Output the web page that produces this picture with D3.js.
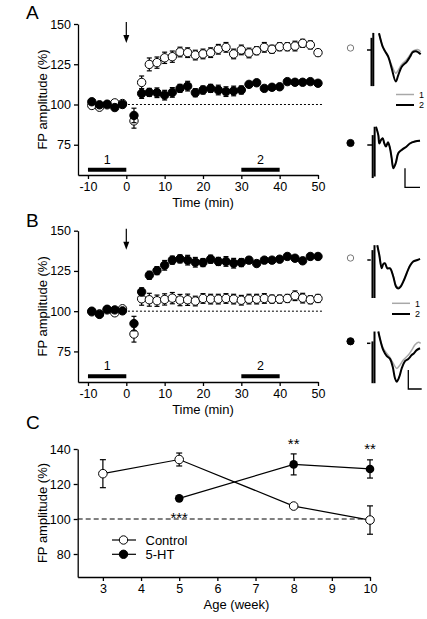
<!DOCTYPE html>
<html><head><meta charset="utf-8">
<script src="https://cdn.jsdelivr.net/npm/d3@7"></script>
<style>
body{margin:0;background:#fff}
svg{display:block;font-family:"Liberation Sans",Arial,Helvetica,sans-serif}
text{fill:#000}
</style>
</head><body>
<svg id="c" width="427" height="619"></svg>
<script>
// ---------- DATA ----------
const times = [-9,-7,-5,-3,-1,2,4,6,8,10,12,14,16,18,20,22,24,26,28,30,32,34,36,38,40,42,44,46,48,50];
const timeTicks = [-10,0,10,20,30,40,50];
const ampTicks = [75,100,125,150];

const aControl = [99.4,98.3,99.8,101,100.6,89.8,113.7,124.9,126,129,129.7,132.6,132.2,130.7,131.4,132.2,134.3,135.5,131.4,133.9,132,133.4,135.5,134.3,135.9,135.9,136.3,138,137,132.2];
const aControlErr = [1.2,1.2,1,1.2,1.2,4.5,4,4,3.5,3.5,3.5,3,3,3,3,3,3,3,3,3,3,2.5,3,2.5,2.5,2.5,3,2.5,2.5,2];
const a5HT = [101.7,99.8,100.2,98.1,100,93.2,106.8,107.5,107.3,105.8,107.5,110,111.4,107.3,109,110,109,108,108.4,109,112.5,113.5,110,110.7,111,114.2,113.8,113.8,114.2,113.2];
const a5HTErr = [1,1,1,1,1,4.5,3,2.5,3,3,3,2.5,3,2.5,2.5,2.5,3,3,3,2.5,1.5,1.5,1.5,1.5,1.5,1.5,1.5,1,1,1];

const bControl = [99.6,98.3,100.8,99,101.5,85.8,107.7,107.1,106.5,107.3,108.1,106.9,107.1,106.3,107.9,107.5,107.5,107.9,107.5,106.8,107.5,107.5,107.9,107.5,107.5,107.9,109.6,108.1,107.1,107.9];
const bControlErr = [1,1,1,1.5,1,5,4,4,3.5,3.5,3.5,3.5,3.5,3,3,3,3,3,3,3,3,3,3,2.5,2.5,2.5,3,3,2.5,2.5];
const b5HT = [100,98,101.2,100.8,100.2,92.3,112,122.3,125.2,128.5,131.7,132.5,131.7,130.4,130.2,132.3,130.9,130.9,129.8,130.2,131.7,129.6,131.7,131.7,132.3,134,132.9,131.3,134,134];
const b5HTErr = [1,1,1,1,1,4.5,2.5,2.5,2.5,3,2.5,2.5,3,3,2.5,2.5,2.5,3,3,2.5,2,1.5,1.5,1.5,1.5,1.5,1.5,1.5,1.5,1.5];

const periods = [{label:"1", from:-10, to:0},{label:"2", from:30, to:40}];

const ages = [3,5,8,10];
const ageTicks = [3,4,5,6,7,8,9,10];
const cTicks = [80,100,120,140];
const cControl = [125.9,134,107.4,99.4];
const cControlErr = [8,3.7,0,8.1];
const c5HTAges = [5,8,10];
const c5HT = [111.8,131.2,128.6];
const c5HTErr = [0,6,5.2];
const sigAges = [5,8,10];
const sigLabels = ["***","**","**"];
const sigLevels = [97.8,140,137.2];

// traces: [ms, mV]
const trABase = [[0,0],[0.6,0]];
const trAArt = [[0.6,0.32,-0.95],[0.84,0.45,-0.95]];
const trA1 = [[1.6,0.44],[1.83,0.26],[2.09,0.09],[2.4,-0.03],[2.84,-0.18],[3.29,-0.4],[3.83,-0.61],[4.17,-0.53],[4.63,-0.38],[5.29,-0.25],[5.73,-0.13],[6.09,-0.03],[6.53,0.01],[6.84,0.01],[7.16,-0.05]];
const trA2 = [[1.6,0.44],[1.83,0.26],[2.09,0.09],[2.4,-0.03],[2.84,-0.18],[3.29,-0.48],[3.83,-0.83],[4.17,-0.66],[4.63,-0.44],[5.29,-0.31],[5.73,-0.18],[6.09,-0.06],[6.53,-0.03],[6.84,-0.06],[7.16,-0.11]];
const trA5Base = [[0.04,0],[0.7,0]];
const trA5Art = [[0.76,0.26,-0.87],[1.02,0.48,-0.83]];
const trA51 = [[1.2,0.48],[1.51,0.26],[1.64,0.05],[1.87,0.14],[2.09,0.18],[2.31,0.05],[2.53,-0.03],[2.8,0.07],[3.07,-0.08],[3.29,-0.33],[3.51,-0.57],[3.83,-0.46],[4.17,-0.21],[4.63,-0.12],[5.29,-0.03],[5.73,0.05],[6.4,0.1],[7.07,0.12]];
const trA52 = [[1.2,0.48],[1.51,0.26],[1.64,0.04],[1.87,0.13],[2.09,0.18],[2.31,0.04],[2.53,-0.04],[2.8,0.07],[3.07,-0.09],[3.29,-0.35],[3.51,-0.61],[3.83,-0.48],[4.17,-0.22],[4.63,-0.13],[5.29,-0.04],[5.73,0.04],[6.4,0.09],[7.07,0.11]];

const trBBase = [[0.04,0],[0.5,0]];
const trBArt = [[0.73,0.26,-1.0],[1.0,0.39,-1.0]];
const trB1 = [[1.37,0.39],[1.64,0.13],[1.96,-0.2],[2.17,-0.1],[2.4,-0.08],[2.71,-0.2],[3.07,-0.21],[3.51,-0.42],[3.87,-0.67],[4.17,-0.72],[4.49,-0.68],[4.84,-0.55],[5.29,-0.34],[5.73,-0.14],[6.17,-0.03],[6.71,0.01],[7.07,0.03]];
const trB2 = [[1.37,0.39],[1.64,0.13],[1.96,-0.22],[2.17,-0.11],[2.4,-0.09],[2.71,-0.22],[3.07,-0.22],[3.51,-0.44],[3.87,-0.7],[4.17,-0.75],[4.49,-0.7],[4.84,-0.57],[5.29,-0.35],[5.73,-0.15],[6.17,-0.04],[6.71,0],[7.07,0.03]];
const trB5Base = [[0,0],[0.45,0]];
const trB5Art = [[0.73,0.05,-1.05],[1.0,0.31,-1.05]];
const trB51 = [[1.51,0.31],[1.83,0.05],[2.17,-0.13],[2.62,-0.26],[3.07,-0.38],[3.51,-0.53],[3.96,-0.66],[4.4,-0.57],[4.84,-0.44],[5.51,-0.31],[5.96,-0.18],[6.4,-0.04],[6.84,0.03],[7.16,0]];
const trB52 = [[1.51,0.31],[1.83,0.04],[2.17,-0.18],[2.62,-0.33],[3.07,-0.41],[3.43,-0.62],[3.73,-0.92],[3.96,-1.01],[4.31,-0.88],[4.63,-0.66],[5.07,-0.47],[5.51,-0.41],[5.96,-0.31],[6.27,-0.26],[6.62,-0.18],[7.07,-0.13]];

// ---------- DRAW ----------
const svg = d3.select("#c");
svg.append("rect").attr("width",427).attr("height",619).attr("fill","#fff");
const FS = 12.5;

function styleAxis(g){
  g.selectAll("path.domain").attr("stroke","#000").attr("stroke-width",1.3);
  g.selectAll(".tick line").attr("stroke","#000").attr("stroke-width",1.3);
  g.selectAll(".tick text").attr("font-size",FS).attr("fill","#000").attr("font-family","Liberation Sans, Arial, sans-serif");
}

function timePanel(cfg){
  const x = d3.scaleLinear().domain([-12.6,50]).range([78,318]);
  const y = d3.scaleLinear().domain(cfg.yDom).range([cfg.bottom,cfg.top]);
  const g = svg.append("g");
  const ya = g.append("g").attr("transform","translate(78,0)")
    .call(d3.axisLeft(y).tickValues(ampTicks).tickSize(4).tickSizeOuter(0).tickPadding(3));
  styleAxis(ya);
  const xa = g.append("g").attr("transform",`translate(0,${cfg.bottom})`)
    .call(d3.axisBottom(x).tickValues(timeTicks).tickSize(4).tickSizeOuter(0).tickPadding(3).tickFormat(d=>d));
  styleAxis(xa);
  xa.selectAll(".tick text").text(d=>d<0?"-"+Math.abs(d):d);
  g.append("text").attr("x",x(20)).attr("y",cfg.bottom+32).attr("text-anchor","middle")
    .attr("font-size",13).text("Time (min)");
  g.append("text").attr("transform",`translate(47,${(cfg.top+cfg.bottom)/2}) rotate(-90)`)
    .attr("text-anchor","middle").attr("font-size",13).text("FP amplitude (%)");
  g.append("text").attr("x",26).attr("y",cfg.letterY).attr("font-size",19).text(cfg.letter);
  g.append("line").attr("x1",x(-10)).attr("x2",x(51.5)).attr("y1",y(100)).attr("y2",y(100))
    .attr("stroke","#000").attr("stroke-width",1).attr("stroke-dasharray","2,2");
  g.append("line").attr("x1",x(0)).attr("x2",x(0)).attr("y1",cfg.top-2).attr("y2",cfg.top+12)
    .attr("stroke","#000").attr("stroke-width",1.2);
  g.append("path").attr("d",`M${x(0)-3},${cfg.top+11}L${x(0)+3},${cfg.top+11}L${x(0)},${cfg.top+19}Z`).attr("fill","#000");
  periods.forEach(p=>{
    g.append("line").attr("x1",x(p.from)).attr("x2",x(p.to)).attr("y1",y(cfg.barLevel)).attr("y2",y(cfg.barLevel))
      .attr("stroke","#000").attr("stroke-width",4);
    g.append("text").attr("x",x((p.from+p.to)/2)).attr("y",y(cfg.barLevel)-6).attr("text-anchor","middle")
      .attr("font-size",FS).text(p.label);
  });
  function series(vals,errs,filled){
    const sg = g.append("g");
    vals.forEach((v,i)=>{
      const cx = x(times[i]), e = errs[i];
      if(e>0){
        sg.append("line").attr("x1",cx).attr("x2",cx).attr("y1",y(v-e)).attr("y2",y(v+e)).attr("stroke","#000").attr("stroke-width",1.2);
        [v-e,v+e].forEach(w=>sg.append("line").attr("x1",cx-2.5).attr("x2",cx+2.5).attr("y1",y(w)).attr("y2",y(w)).attr("stroke","#000").attr("stroke-width",1.2));
      }
    });
    sg.selectAll("circle").data(vals).join("circle")
      .attr("cx",(d,i)=>x(times[i])).attr("cy",d=>y(d)).attr("r",4.2)
      .attr("fill",filled?"#000":"#fff").attr("stroke","#000").attr("stroke-width",1);
  }
  series(cfg.open,cfg.openErr,false); series(cfg.fill,cfg.fillErr,true);
}

timePanel({top:24,bottom:175,yDom:[56.2,150],letter:"A",letterY:18.5,barLevel:59.5,
  open:aControl,openErr:aControlErr,fill:a5HT,fillErr:a5HTErr});
timePanel({top:230.7,bottom:382,yDom:[56,150],letter:"B",letterY:226.5,barLevel:59.5,
  open:bControl,openErr:bControlErr,fill:b5HT,fillErr:b5HTErr});

// ---------- Panel C ----------
(function(){
  const x = d3.scaleLinear().domain([2.34,10]).range([77.7,370]);
  const y = d3.scaleLinear().domain([66.86,140]).range([577,449]);
  const g = svg.append("g");
  const ya = g.append("g").attr("transform","translate(77.7,0)")
    .call(d3.axisLeft(y).tickValues(cTicks).tickSize(4).tickSizeOuter(0).tickPadding(3));
  styleAxis(ya);
  const xa = g.append("g").attr("transform","translate(0,577)")
    .call(d3.axisBottom(x).tickValues(ageTicks).tickSize(4).tickSizeOuter(0).tickPadding(3));
  styleAxis(xa);
  g.append("text").attr("x",x(6.5)).attr("y",609).attr("text-anchor","middle").attr("font-size",13).text("Age (week)");
  g.append("text").attr("transform",`translate(47,${(449+577)/2}) rotate(-90)`).attr("text-anchor","middle").attr("font-size",13).text("FP amplitude (%)");
  g.append("text").attr("x",26).attr("y",429).attr("font-size",19).text("C");
  g.append("line").attr("x1",x(2.34)).attr("x2",x(10)).attr("y1",y(100)).attr("y2",y(100))
    .attr("stroke","#000").attr("stroke-width",1).attr("stroke-dasharray","5,3");
  const line = d3.line().x(d=>x(d[0])).y(d=>y(d[1]));
  const ctl = ages.map((a,i)=>[a,cControl[i]]);
  const ht = c5HTAges.map((a,i)=>[a,c5HT[i]]);
  g.append("path").attr("d",line(ctl)).attr("fill","none").attr("stroke","#000").attr("stroke-width",1.2);
  g.append("path").attr("d",line(ht)).attr("fill","none").attr("stroke","#000").attr("stroke-width",1.2);
  function eb(xs,vals,errs){
    vals.forEach((v,i)=>{ const e=errs[i]; if(e<=0) return; const cx=x(xs[i]);
      g.append("line").attr("x1",cx).attr("x2",cx).attr("y1",y(v-e)).attr("y2",y(v+e)).attr("stroke","#000").attr("stroke-width",1.2);
      [v-e,v+e].forEach(w=>g.append("line").attr("x1",cx-3).attr("x2",cx+3).attr("y1",y(w)).attr("y2",y(w)).attr("stroke","#000").attr("stroke-width",1.2));
    });
  }
  eb(ages,cControl,cControlErr); eb(c5HTAges,c5HT,c5HTErr);
  g.selectAll("circle.o").data(ctl).join("circle").attr("cx",d=>x(d[0])).attr("cy",d=>y(d[1])).attr("r",4.3).attr("fill","#fff").attr("stroke","#000").attr("stroke-width",1);
  g.selectAll("circle.f").data(ht).join("circle").attr("cx",d=>x(d[0])).attr("cy",d=>y(d[1])).attr("r",4.3).attr("fill","#000");
  sigAges.forEach((a,i)=>g.append("text").attr("x",x(a)).attr("y",y(sigLevels[i])).attr("text-anchor","middle").attr("font-size",15).attr("fill","#000").text(sigLabels[i]));
  [["Control",false],["5-HT",true]].forEach((d,i)=>{
    const ly = 540+i*14.3;
    g.append("line").attr("x1",112).attr("x2",136).attr("y1",ly).attr("y2",ly).attr("stroke","#000").attr("stroke-width",1.2);
    g.append("circle").attr("cx",123.5).attr("cy",ly).attr("r",4.2).attr("fill",d[1]?"#000":"#fff").attr("stroke","#000");
    g.append("text").attr("x",145.5).attr("y",ly+4.8).attr("font-size",13).text(d[0]);
  });
})();

// ---------- Traces ----------
const tx = d3.scaleLinear().domain([0,1]).range([0,7.5]);
const ty = d3.scaleLinear().domain([0,1]).range([0,-38]);
const tline = d3.line().x(d=>tx(d[0])).y(d=>ty(d[1])).curve(d3.curveCatmullRom.alpha(0.5));
function trace(ox,oy,base,art,t1,t2,filled){
  const g = svg.append("g").attr("transform",`translate(${ox},${oy})`);
  g.append("path").attr("d",d3.line().x(d=>tx(d[0])).y(d=>ty(d[1]))(base)).attr("stroke","#000").attr("stroke-width",1.5).attr("fill","none");
  art.forEach(a=>g.append("line").attr("x1",tx(a[0])).attr("x2",tx(a[0])).attr("y1",ty(a[1])).attr("y2",ty(a[2])).attr("stroke","#000").attr("stroke-width",2));
  g.append("path").attr("d",tline(t1)).attr("stroke","#a8a8a8").attr("stroke-width",1.5).attr("fill","none");
  g.append("path").attr("d",tline(t2)).attr("stroke","#000").attr("stroke-width",2).attr("fill","none");
  svg.append("circle").attr("cx",350.5).attr("cy",oy-2).attr("r",filled?3.6:3.2).attr("fill",filled?"#000":"#fff").attr("stroke",filled?"#000":"#777").attr("stroke-width",1);
}
trace(367,50,trABase,trAArt,trA1,trA2,false);
trace(367,145,trA5Base,trA5Art,trA51,trA52,true);
trace(367,260,trBBase,trBArt,trB1,trB2,false);
trace(367,343.3,trB5Base,trB5Art,trB51,trB52,true);

function traceLegend(x1,x2,y1,y2,tx0){
  svg.append("line").attr("x1",x1).attr("x2",x2).attr("y1",y1).attr("y2",y1).attr("stroke","#a8a8a8").attr("stroke-width",1.5);
  svg.append("line").attr("x1",x1).attr("x2",x2).attr("y1",y2).attr("y2",y2).attr("stroke","#000").attr("stroke-width",2);
  svg.append("text").attr("x",tx0).attr("y",y1+3.2).attr("font-size",9).attr("fill","#000").text("1");
  svg.append("text").attr("x",tx0).attr("y",y2+3.4).attr("font-size",9).attr("fill","#000").text("2");
}
traceLegend(396,414,94.5,105,419);
traceLegend(392,410,303.3,314,415);
function scaleBar(x0,yTop,yBot,x1){
  svg.append("path").attr("d",`M${x0},${yTop}V${yBot}H${x1}`).attr("fill","none").attr("stroke","#000").attr("stroke-width",1.3);
}
scaleBar(405,168.3,187.3,420);
scaleBar(408.3,370,389,421.7);
</script>
</body></html>
